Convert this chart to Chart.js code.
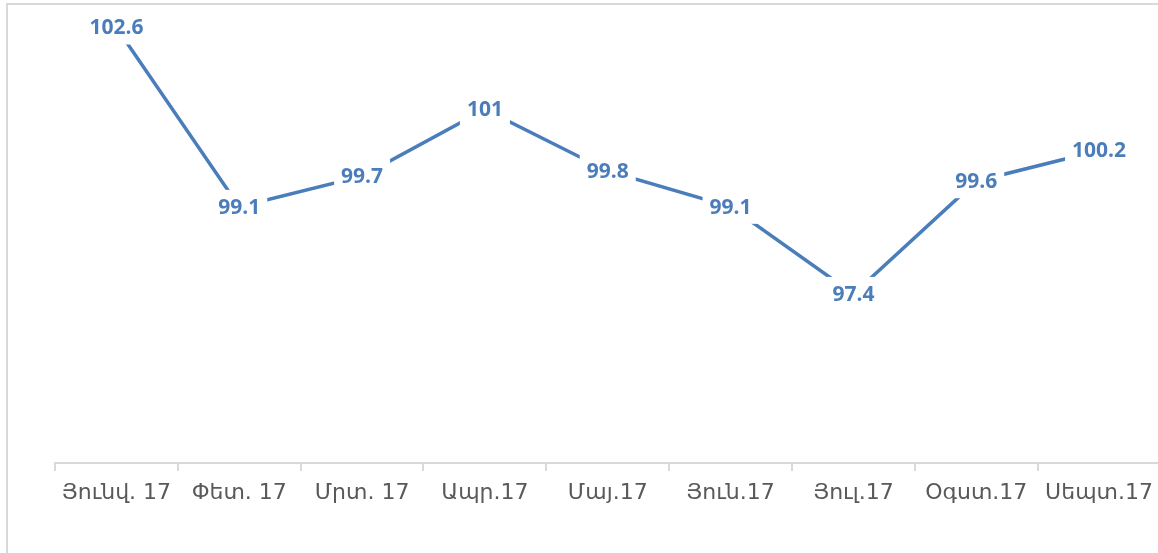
<!DOCTYPE html>
<html>
<head>
<meta charset="utf-8">
<script src="https://cdn.jsdelivr.net/npm/chart.js@4/dist/chart.umd.min.js"></script>
<style>
html,body{margin:0;padding:0;background:#fff;overflow:hidden;width:1158px;height:553px;}
#wrap{position:absolute;left:0;top:0;width:1162px;height:553px;}
</style>
</head>
<body>
<div id="wrap"><canvas id="c" width="1162" height="553"></canvas></div>
<script>
const categories = ["Յունվ. 17","Փետ. 17","Մրտ. 17","Ապր.17","Մայ.17","Յուն.17","Յուլ.17","Օգստ.17","Սեպտ.17"];
const values = [102.6, 99.1, 99.7, 101, 99.8, 99.1, 97.4, 99.6, 100.2];
const valueLabels = ["102.6","99.1","99.7","101","99.8","99.1","97.4","99.6","100.2"];

const BLUE = "#4A7EBB";
const LABEL_BLUE = "#4A7DBA";

const framePlugin = {
  id: "frame",
  beforeDraw(chart) {
    const ctx = chart.ctx;
    ctx.save();
    ctx.fillStyle = "#fff";
    ctx.fillRect(0, 0, chart.width, chart.height);
    ctx.strokeStyle = "#D9D9D9";
    ctx.lineWidth = 2;
    ctx.beginPath();
    ctx.moveTo(7, chart.height);
    ctx.lineTo(7, 4);
    ctx.lineTo(chart.width, 4);
    ctx.stroke();
    ctx.restore();
  }
};

const labelPlugin = {
  id: "valueLabels",
  afterDatasetsDraw(chart) {
    const ctx = chart.ctx;
    const meta = chart.getDatasetMeta(0);
    ctx.save();
    ctx.font = "bold 21px 'Open Sans'";
    ctx.textAlign = "center";
    ctx.textBaseline = "middle";
    meta.data.forEach((pt, i) => {
      const txt = valueLabels[i];
      const w = ctx.measureText(txt).width;
      ctx.fillStyle = "#fff";
      ctx.fillRect(pt.x - w / 2 - 7, pt.y - 17, w + 14, 34);
      ctx.fillStyle = LABEL_BLUE;
      ctx.fillText(txt, pt.x, pt.y + 1);
    });
    ctx.restore();
  }
};

new Chart(document.getElementById("c"), {
  type: "line",
  data: {
    labels: categories,
    datasets: [{
      data: values,
      borderColor: BLUE,
      borderWidth: 3.5,
      pointRadius: 0,
      tension: 0,
      fill: false
    }]
  },
  options: {
    responsive: false,
    animation: false,
    layout: { padding: { left: 55, right: 0, top: 7, bottom: 0 } },
    plugins: { legend: { display: false }, tooltip: { enabled: false } },
    scales: {
      y: { display: false, min: 94.1, max: 103 },
      x: {
        offset: true,
        afterFit(s) { s.height = 90; },
        border: { display: true, color: "#D9D9D9", width: 2 },
        grid: {
          offset: true,
          drawOnChartArea: false,
          drawTicks: true,
          tickLength: 8,
          color: "#D9D9D9",
          lineWidth: 2
        },
        ticks: {
          autoSkip: false,
          maxRotation: 0,
          minRotation: 0,
          padding: 9,
          color: "#595959",
          font: { family: "'DejaVu Sans'", size: 22 }
        }
      }
    }
  },
  plugins: [framePlugin, labelPlugin]
});
</script>
</body>
</html>
